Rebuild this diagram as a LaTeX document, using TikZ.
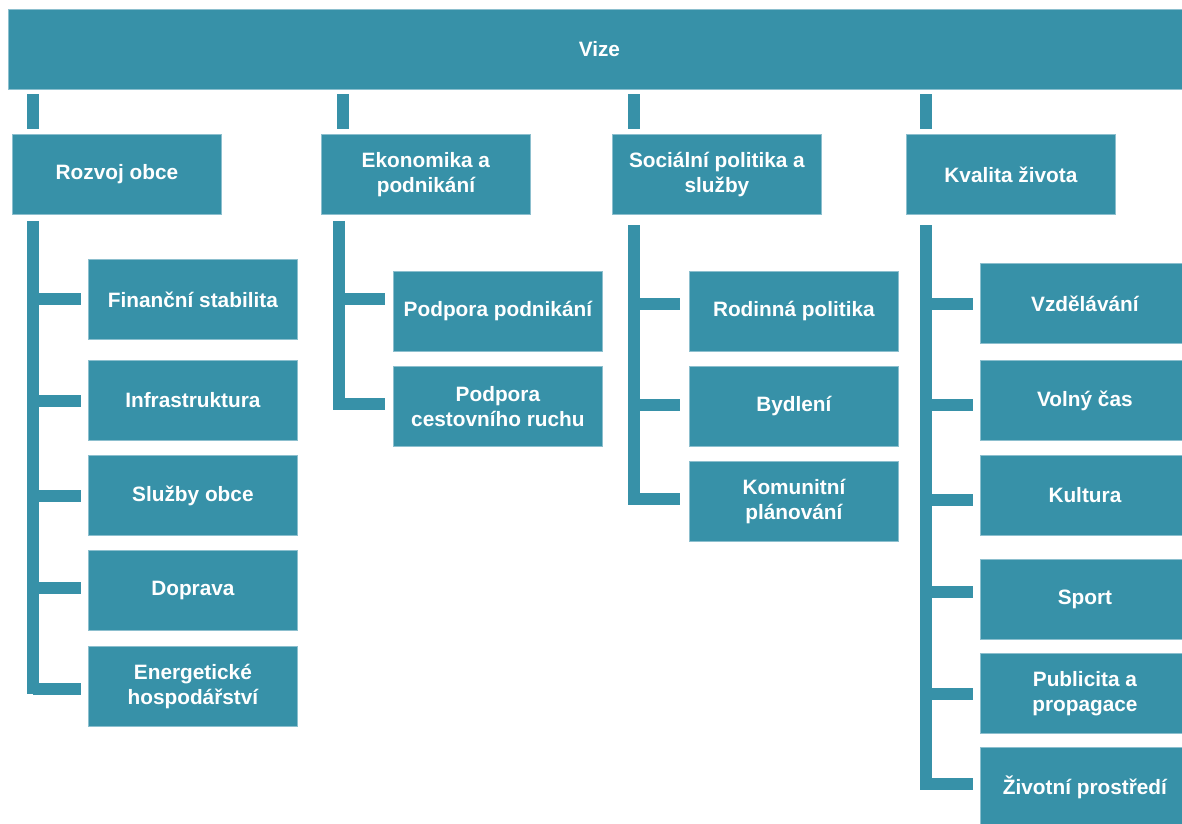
\documentclass[tikz,border=0pt]{standalone}
\usepackage{fontspec}
\setmainfont{Liberation Sans}
\usetikzlibrary{calc}
\definecolor{boxfill}{HTML}{3791A8}
\definecolor{boxedge}{HTML}{8CBFCE}
\begin{document}
\begin{tikzpicture}[x=1pt,y=1pt,
  box/.style={draw=boxedge, line width=0.8pt, fill=boxfill, text=white,
    minimum width=209pt, minimum height=80pt, inner sep=0pt, anchor=north west,
    align=center, font=\fontsize{20.8}{25}\selectfont\bfseries},
  bar/.style={draw=boxfill, line width=12pt, line cap=butt}]
\useasboundingbox (0,0) rectangle (1182,-823);
\clip (0,0) rectangle (1182,-823);
% top
\node[box, minimum width=1182pt] (vize) at (8,-9) {Vize};
% level 1
\node[box] (rozvoj) at (12,-134) {Rozvoj obce};
\node[box] (ekon) at (321,-134) {Ekonomika a\\podnikání};
\node[box] (soc) at (612,-134) {Sociální politika a\\služby};
\node[box] (kval) at (906,-134) {Kvalita života};
% level 2: Rozvoj obce
\node[box] (fin) at (88,-259) {Finanční stabilita};
\node[box] (infra) at (88,-360) {Infrastruktura};
\node[box] (sluz) at (88,-455) {Služby obce};
\node[box] (dopr) at (88,-550) {Doprava};
\node[box] (energ) at (88,-646) {Energetické\\hospodářství};
% Ekonomika
\node[box] (ppod) at (393,-271) {Podpora podnikání};
\node[box] (pcest) at (393,-366) {Podpora\\cestovního ruchu};
% Sociální
\node[box] (rod) at (689,-271) {Rodinná politika};
\node[box] (byd) at (689,-366) {Bydlení};
\node[box] (kom) at (689,-461) {Komunitní\\plánování};
% Kvalita
\node[box] (vzd) at (980,-263) {Vzdělávání};
\node[box] (vol) at (980,-360) {Volný čas};
\node[box] (kult) at (980,-455) {Kultura};
\node[box] (sport) at (980,-559) {Sport};
\node[box] (publ) at (980,-653) {Publicita a\\propagace};
\node[box] (ziv) at (980,-747) {Životní prostředí};
% column x positions
\coordinate (s1) at (33,0);
\coordinate (s2) at (343,0);
\coordinate (s3) at (634,0);
\coordinate (s4) at (926,0);
\coordinate (t2) at (339,0);
% stubs from Vize
\foreach \b/\s in {rozvoj/s1, ekon/s2, soc/s3, kval/s4}
  \draw[bar, shorten <=5.3pt, shorten >=4pt] (\b.north -| \s) -- (vize.south -| \s);
% trunks
\coordinate (e1) at (33,-694.3);
\coordinate (e2) at (339,-409.7);
\coordinate (e3) at (634,-504.7);
\coordinate (e4) at (926,-790);
\draw[bar, shorten <=6pt] (rozvoj.south -| s1) -- (e1);
\draw[bar, shorten <=6pt] (ekon.south -| t2) -- (e2);
\draw[bar, shorten <=10.3pt] (soc.south -| s3) -- (e3);
\draw[bar, shorten <=10.3pt] (kval.south -| s4) -- (e4);
% branches
\foreach \c/\dy in {fin/0.3, infra/-0.5, sluz/-0.3, dopr/2.5, energ/-2.7}
  \draw[bar, shorten >=7pt] ([yshift=\dy pt]\c.west -| s1) -- ([yshift=\dy pt]\c.west);
\foreach \c/\dy in {ppod/12.5, pcest/2.3}
  \draw[bar, shorten >=8pt] ([yshift=\dy pt]\c.west -| t2) -- ([yshift=\dy pt]\c.west);
\foreach \c/\dy in {rod/7, byd/1, kom/2.3}
  \draw[bar, shorten >=8.7pt] ([yshift=\dy pt]\c.west -| s3) -- ([yshift=\dy pt]\c.west);
\foreach \c/\dy in {vzd/-0.3, vol/-5, kult/-4.3, sport/7, publ/-0.2, ziv/3}
  \draw[bar, shorten >=7pt] ([yshift=\dy pt]\c.west -| s4) -- ([yshift=\dy pt]\c.west);
\end{tikzpicture}
\end{document}
